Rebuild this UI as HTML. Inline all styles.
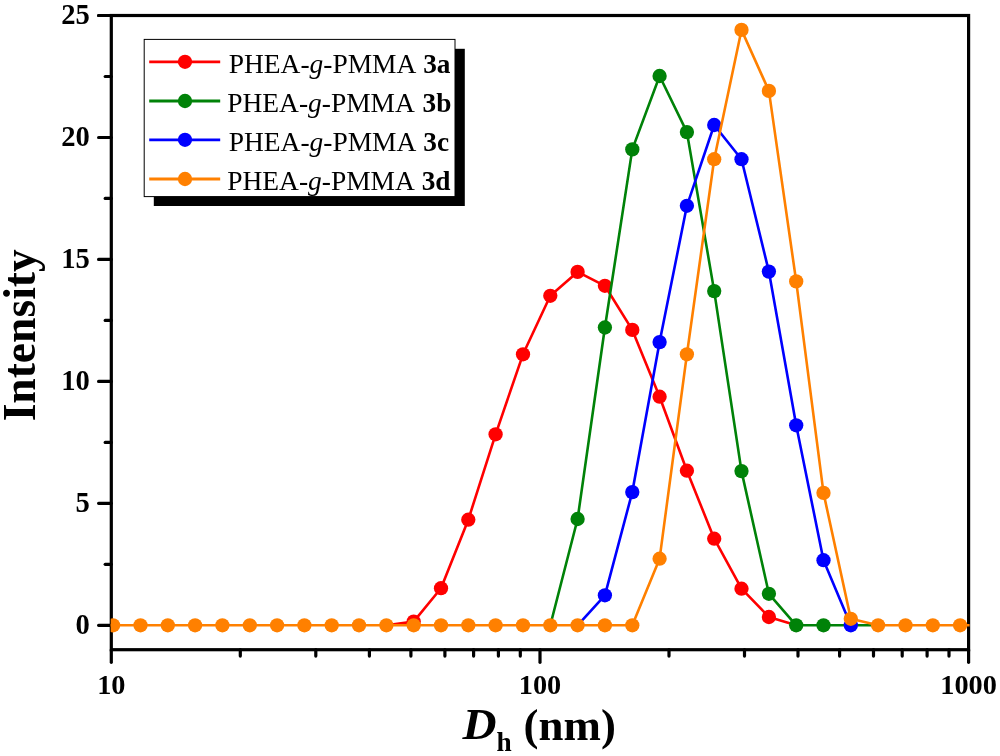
<!DOCTYPE html>
<html><head><meta charset="utf-8"><title>DLS</title>
<style>
html,body{margin:0;padding:0;background:#fff;}
svg{display:block;will-change:transform;font-family:"Liberation Serif",serif;}
.tk{font-size:27.6px;font-weight:bold;fill:#000;}
.lg{font-size:27.3px;fill:#000;}
</style></head><body>
<svg width="1000" height="756" viewBox="0 0 1000 756">
<rect width="1000" height="756" fill="#fff"/>
<defs><clipPath id="cp"><rect x="110.7" y="15.5" width="858.9000000000001" height="634.192"/></clipPath></defs>
<g stroke="#000" stroke-width="3.2" stroke-linecap="round">
<line x1="98.6" x2="111.3" y1="625.3" y2="625.3"/>
<line x1="98.6" x2="111.3" y1="503.3" y2="503.3"/>
<line x1="98.6" x2="111.3" y1="381.4" y2="381.4"/>
<line x1="98.6" x2="111.3" y1="259.4" y2="259.4"/>
<line x1="98.6" x2="111.3" y1="137.5" y2="137.5"/>
<line x1="98.6" x2="111.3" y1="15.5" y2="15.5"/>
<line x1="105.2" x2="111.3" y1="564.3" y2="564.3"/>
<line x1="105.2" x2="111.3" y1="442.4" y2="442.4"/>
<line x1="105.2" x2="111.3" y1="320.4" y2="320.4"/>
<line x1="105.2" x2="111.3" y1="198.4" y2="198.4"/>
<line x1="105.2" x2="111.3" y1="76.5" y2="76.5"/>
<line x1="111.3" x2="111.3" y1="649.7" y2="662.3"/>
<line x1="540.0" x2="540.0" y1="649.7" y2="662.3"/>
<line x1="968.6" x2="968.6" y1="649.7" y2="662.3"/>
<line x1="240.3" x2="240.3" y1="649.7" y2="656.1"/>
<line x1="315.8" x2="315.8" y1="649.7" y2="656.1"/>
<line x1="369.4" x2="369.4" y1="649.7" y2="656.1"/>
<line x1="410.9" x2="410.9" y1="649.7" y2="656.1"/>
<line x1="444.9" x2="444.9" y1="649.7" y2="656.1"/>
<line x1="473.6" x2="473.6" y1="649.7" y2="656.1"/>
<line x1="498.4" x2="498.4" y1="649.7" y2="656.1"/>
<line x1="520.3" x2="520.3" y1="649.7" y2="656.1"/>
<line x1="669.0" x2="669.0" y1="649.7" y2="656.1"/>
<line x1="744.5" x2="744.5" y1="649.7" y2="656.1"/>
<line x1="798.0" x2="798.0" y1="649.7" y2="656.1"/>
<line x1="839.6" x2="839.6" y1="649.7" y2="656.1"/>
<line x1="873.5" x2="873.5" y1="649.7" y2="656.1"/>
<line x1="902.2" x2="902.2" y1="649.7" y2="656.1"/>
<line x1="927.1" x2="927.1" y1="649.7" y2="656.1"/>
<line x1="949.0" x2="949.0" y1="649.7" y2="656.1"/>
</g>
<rect x="111.3" y="15.5" width="857.3000000000001" height="634.2" fill="none" stroke="#000" stroke-width="3.2"/>
<line x1="98.6" x2="111.3" y1="15.5" y2="15.5" stroke="#000" stroke-width="3.2" stroke-linecap="round"/>
<g clip-path="url(#cp)">
<path d="M386.4,625.3L413.7,621.6L441.0,588.2L468.3,519.7L495.6,434.3L523.0,354.3L550.3,295.8L577.6,271.9L604.9,285.8L632.3,329.9L659.6,396.7L686.9,470.7L714.2,538.7L741.5,588.7L768.9,617.0L796.2,625.3" fill="none" stroke="#ff0000" stroke-width="2.6" stroke-linejoin="round"/>
<circle cx="413.7" cy="621.6" r="7.15" fill="#ff0000"/>
<circle cx="441.0" cy="588.2" r="7.15" fill="#ff0000"/>
<circle cx="468.3" cy="519.7" r="7.15" fill="#ff0000"/>
<circle cx="495.6" cy="434.3" r="7.15" fill="#ff0000"/>
<circle cx="523.0" cy="354.3" r="7.15" fill="#ff0000"/>
<circle cx="550.3" cy="295.8" r="7.15" fill="#ff0000"/>
<circle cx="577.6" cy="271.9" r="7.15" fill="#ff0000"/>
<circle cx="604.9" cy="285.8" r="7.15" fill="#ff0000"/>
<circle cx="632.3" cy="329.9" r="7.15" fill="#ff0000"/>
<circle cx="659.6" cy="396.7" r="7.15" fill="#ff0000"/>
<circle cx="686.9" cy="470.7" r="7.15" fill="#ff0000"/>
<circle cx="714.2" cy="538.7" r="7.15" fill="#ff0000"/>
<circle cx="741.5" cy="588.7" r="7.15" fill="#ff0000"/>
<circle cx="768.9" cy="617.0" r="7.15" fill="#ff0000"/>
<path d="M550.3,625.3L577.6,519.0L604.9,327.5L632.3,149.4L659.6,76.0L686.9,132.1L714.2,291.1L741.5,471.1L768.9,593.8L796.2,625.3L823.5,625.3L850.8,625.3L878.1,625.3" fill="none" stroke="#008208" stroke-width="2.6" stroke-linejoin="round"/>
<circle cx="577.6" cy="519.0" r="7.15" fill="#008208"/>
<circle cx="604.9" cy="327.5" r="7.15" fill="#008208"/>
<circle cx="632.3" cy="149.4" r="7.15" fill="#008208"/>
<circle cx="659.6" cy="76.0" r="7.15" fill="#008208"/>
<circle cx="686.9" cy="132.1" r="7.15" fill="#008208"/>
<circle cx="714.2" cy="291.1" r="7.15" fill="#008208"/>
<circle cx="741.5" cy="471.1" r="7.15" fill="#008208"/>
<circle cx="768.9" cy="593.8" r="7.15" fill="#008208"/>
<circle cx="796.2" cy="625.3" r="7.15" fill="#008208"/>
<circle cx="823.5" cy="625.3" r="7.15" fill="#008208"/>
<path d="M577.6,625.3L604.9,595.3L632.3,492.1L659.6,342.1L686.9,205.8L714.2,125.0L741.5,159.2L768.9,271.6L796.2,425.3L823.5,560.2L850.8,625.3" fill="none" stroke="#0000ff" stroke-width="2.6" stroke-linejoin="round"/>
<circle cx="604.9" cy="595.3" r="7.15" fill="#0000ff"/>
<circle cx="632.3" cy="492.1" r="7.15" fill="#0000ff"/>
<circle cx="659.6" cy="342.1" r="7.15" fill="#0000ff"/>
<circle cx="686.9" cy="205.8" r="7.15" fill="#0000ff"/>
<circle cx="714.2" cy="125.0" r="7.15" fill="#0000ff"/>
<circle cx="741.5" cy="159.2" r="7.15" fill="#0000ff"/>
<circle cx="768.9" cy="271.6" r="7.15" fill="#0000ff"/>
<circle cx="796.2" cy="425.3" r="7.15" fill="#0000ff"/>
<circle cx="823.5" cy="560.2" r="7.15" fill="#0000ff"/>
<circle cx="850.8" cy="625.3" r="7.15" fill="#0000ff"/>
<path d="M85.8,625.3L113.1,625.3L140.5,625.3L167.8,625.3L195.1,625.3L222.4,625.3L249.8,625.3L277.1,625.3L304.4,625.3L331.7,625.3L359.0,625.3L386.4,625.3L413.7,625.3L441.0,625.3L468.3,625.3L495.6,625.3L523.0,625.3L550.3,625.3L577.6,625.3L604.9,625.3L632.3,625.3L659.6,558.7L686.9,354.3L714.2,159.2L741.5,29.9L768.9,90.9L796.2,281.4L823.5,492.9L850.8,618.8L878.1,625.3L905.5,625.3L932.8,625.3L960.1,625.3L987.4,625.3" fill="none" stroke="#ff8000" stroke-width="2.6" stroke-linejoin="round"/>
<circle cx="85.8" cy="625.3" r="7.15" fill="#ff8000"/>
<circle cx="113.1" cy="625.3" r="7.15" fill="#ff8000"/>
<circle cx="140.5" cy="625.3" r="7.15" fill="#ff8000"/>
<circle cx="167.8" cy="625.3" r="7.15" fill="#ff8000"/>
<circle cx="195.1" cy="625.3" r="7.15" fill="#ff8000"/>
<circle cx="222.4" cy="625.3" r="7.15" fill="#ff8000"/>
<circle cx="249.8" cy="625.3" r="7.15" fill="#ff8000"/>
<circle cx="277.1" cy="625.3" r="7.15" fill="#ff8000"/>
<circle cx="304.4" cy="625.3" r="7.15" fill="#ff8000"/>
<circle cx="331.7" cy="625.3" r="7.15" fill="#ff8000"/>
<circle cx="359.0" cy="625.3" r="7.15" fill="#ff8000"/>
<circle cx="386.4" cy="625.3" r="7.15" fill="#ff8000"/>
<circle cx="413.7" cy="625.3" r="7.15" fill="#ff8000"/>
<circle cx="441.0" cy="625.3" r="7.15" fill="#ff8000"/>
<circle cx="468.3" cy="625.3" r="7.15" fill="#ff8000"/>
<circle cx="495.6" cy="625.3" r="7.15" fill="#ff8000"/>
<circle cx="523.0" cy="625.3" r="7.15" fill="#ff8000"/>
<circle cx="550.3" cy="625.3" r="7.15" fill="#ff8000"/>
<circle cx="577.6" cy="625.3" r="7.15" fill="#ff8000"/>
<circle cx="604.9" cy="625.3" r="7.15" fill="#ff8000"/>
<circle cx="632.3" cy="625.3" r="7.15" fill="#ff8000"/>
<circle cx="659.6" cy="558.7" r="7.15" fill="#ff8000"/>
<circle cx="686.9" cy="354.3" r="7.15" fill="#ff8000"/>
<circle cx="714.2" cy="159.2" r="7.15" fill="#ff8000"/>
<circle cx="741.5" cy="29.9" r="7.15" fill="#ff8000"/>
<circle cx="768.9" cy="90.9" r="7.15" fill="#ff8000"/>
<circle cx="796.2" cy="281.4" r="7.15" fill="#ff8000"/>
<circle cx="823.5" cy="492.9" r="7.15" fill="#ff8000"/>
<circle cx="850.8" cy="618.8" r="7.15" fill="#ff8000"/>
<circle cx="878.1" cy="625.3" r="7.15" fill="#ff8000"/>
<circle cx="905.5" cy="625.3" r="7.15" fill="#ff8000"/>
<circle cx="932.8" cy="625.3" r="7.15" fill="#ff8000"/>
<circle cx="960.1" cy="625.3" r="7.15" fill="#ff8000"/>
<circle cx="987.4" cy="625.3" r="7.15" fill="#ff8000"/>
</g>
<rect x="153.8" y="48.8" width="311.0" height="157.2" fill="#000"/>
<rect x="144.2" y="39.4" width="310.8" height="157.2" fill="#fff" stroke="#000" stroke-width="1"/>
<line x1="149.2" x2="220.2" y1="61.8" y2="61.8" stroke="#ff0000" stroke-width="2.8"/><circle cx="185" cy="61.8" r="7.15" fill="#ff0000"/><text transform="translate(228.7,73.2) scale(1.006,1)" class="lg">PHEA-<tspan font-style="italic">g</tspan>-PMMA</text><text x="423.2" y="73.2" class="lg" font-weight="bold">3a</text><line x1="149.2" x2="220.2" y1="101" y2="101" stroke="#008208" stroke-width="2.8"/><circle cx="185" cy="101" r="7.15" fill="#008208"/><text transform="translate(227.2,112.4) scale(1.006,1)" class="lg">PHEA-<tspan font-style="italic">g</tspan>-PMMA</text><text x="422.6" y="112.4" class="lg" font-weight="bold">3b</text><line x1="149.2" x2="220.2" y1="139.8" y2="139.8" stroke="#0000ff" stroke-width="2.8"/><circle cx="185" cy="139.8" r="7.15" fill="#0000ff"/><text transform="translate(228.7,151.2) scale(1.006,1)" class="lg">PHEA-<tspan font-style="italic">g</tspan>-PMMA</text><text x="423.3" y="151.2" class="lg" font-weight="bold">3c</text><line x1="149.2" x2="220.2" y1="179" y2="179" stroke="#ff8000" stroke-width="2.8"/><circle cx="185" cy="179" r="7.15" fill="#ff8000"/><text transform="translate(227.2,190.0) scale(1.006,1)" class="lg">PHEA-<tspan font-style="italic">g</tspan>-PMMA</text><text x="421.7" y="190.0" class="lg" font-weight="bold">3d</text>
<g class="tk"><text x="89.8" y="633.6" text-anchor="end" font-size="28.6">0</text><text x="89.8" y="511.6" text-anchor="end" font-size="28.6">5</text><text x="89.8" y="389.7" text-anchor="end" font-size="28.6">10</text><text x="89.8" y="267.7" text-anchor="end" font-size="28.6">15</text><text x="89.8" y="145.8" text-anchor="end" font-size="28.6">20</text><text x="89.8" y="23.8" text-anchor="end" font-size="28.6">25</text><text x="111.3" y="694.0" text-anchor="middle" font-size="28.3">10</text><text x="540.0" y="694.0" text-anchor="middle" font-size="28.3">100</text><text x="968.6" y="694.0" text-anchor="middle" font-size="28.3">1000</text></g>
<text transform="translate(35.3,335.3) rotate(-90) scale(0.993,1)" text-anchor="middle" font-size="45.9" font-weight="bold">Intensity</text>
<text transform="translate(462.5,739.3) scale(1.06,1)" font-size="44.5" font-weight="bold" font-style="italic">D</text>
<text x="496.6" y="751" font-size="27.3" font-weight="bold">h</text>
<text x="523.6" y="739.5" font-size="44.9" font-weight="bold">(nm)</text>
</svg>
</body></html>
